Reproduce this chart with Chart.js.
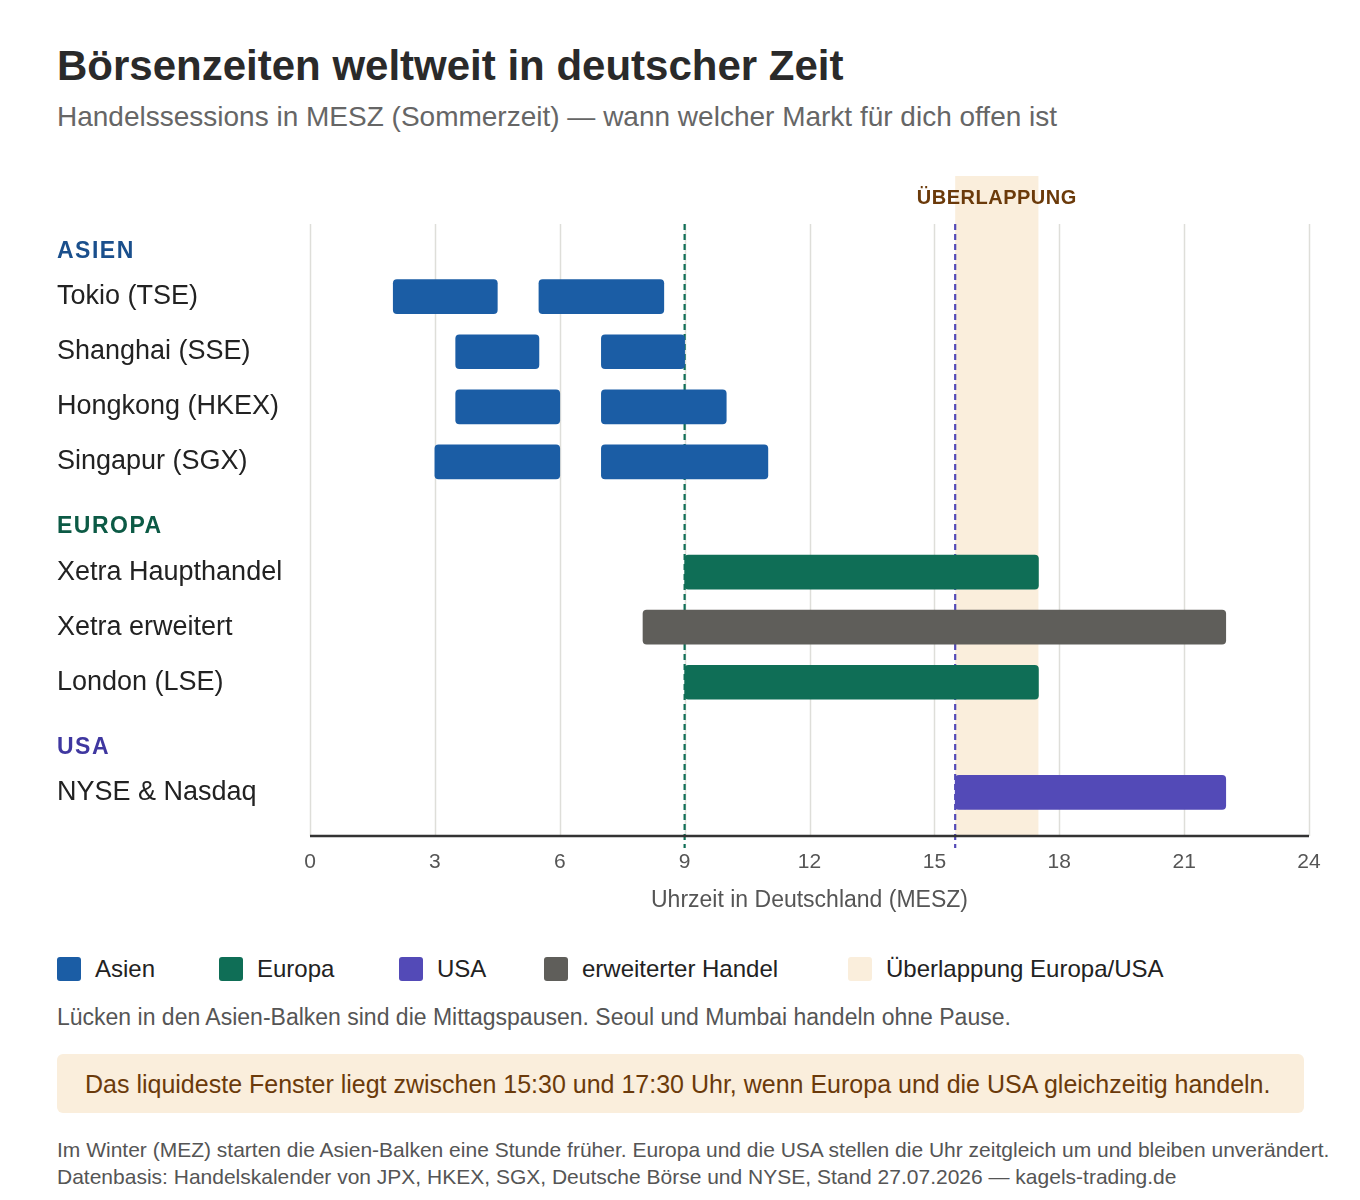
<!DOCTYPE html>
<html lang="de">
<head>
<meta charset="utf-8">
<title>Börsenzeiten weltweit</title>
<script src="https://cdn.jsdelivr.net/npm/chart.js@4.4.1/dist/chart.umd.min.js"></script>
<style>
  html, body { margin: 0; padding: 0; background: #fff; }
  body { width: 1360px; height: 1200px; position: relative; font-family: "Liberation Sans", Arial, sans-serif; color: #2a2a2a; }
  .abs { position: absolute; white-space: nowrap; }
  #title { left: 57px; top: 40px; font-size: 42px; font-weight: bold; line-height: 52px; color: #2a2a2a; }
  #subtitle { left: 57px; top: 100px; font-size: 28px; line-height: 34px; color: #666; }
  #chartBox { left: 0; top: 150px; width: 1360px; height: 780px; }
  #legend { left: 57px; top: 955px; height: 28px; font-size: 24px; color: #222; }
  .item { position: absolute; top: 0; display: flex; align-items: center; height: 28px; }
  .sw { width: 24px; height: 24px; border-radius: 3px; margin-right: 14px; }
  #note { left: 57px; top: 1003px; font-size: 23px; line-height: 28px; color: #555; }
  #callout { left: 57px; top: 1054px; width: 1247px; height: 59px; background: #faeedc; border-radius: 6px; }
  #callout span { position: absolute; left: 28px; top: 15px; font-size: 25px; line-height: 30px; color: #6b3a0a; }
  #footer { left: 57px; top: 1136px; font-size: 21px; line-height: 27px; color: #555; }
</style>
</head>
<body>
<div id="title" class="abs">Börsenzeiten weltweit in deutscher Zeit</div>
<div id="subtitle" class="abs">Handelssessions in MESZ (Sommerzeit) — wann welcher Markt für dich offen ist</div>
<div id="chartBox" class="abs"><canvas id="sessionChart"></canvas></div>
<div id="legend" class="abs"></div>
<div id="note" class="abs">Lücken in den Asien-Balken sind die Mittagspausen. Seoul und Mumbai handeln ohne Pause.</div>
<div id="callout" class="abs"><span>Das liquideste Fenster liegt zwischen 15:30 und 17:30 Uhr, wenn Europa und die USA gleichzeitig handeln.</span></div>
<div id="footer" class="abs">Im Winter (MEZ) starten die Asien-Balken eine Stunde früher. Europa und die USA stellen die Uhr zeitgleich um und bleiben unverändert.<br>Datenbasis: Handelskalender von JPX, HKEX, SGX, Deutsche Börse und NYSE, Stand 27.07.2026 — kagels-trading.de</div>

<script>
// rows of the chart, group headers included
const rows = [
  "ASIEN", "Tokio (TSE)", "Shanghai (SSE)", "Hongkong (HKEX)", "Singapur (SGX)",
  "EUROPA", "Xetra Haupthandel", "Xetra erweitert", "London (LSE)",
  "USA", "NYSE & Nasdaq",
];
const headerColors = { ASIEN: "#1a4f8c", EUROPA: "#0c5a45", USA: "#3f37a0" };

// sessions in hours (MESZ), [start, end]
const asiaMorning   = [null, [2, 4.5], [3.5, 5.5], [3.5, 6], [3, 6], null, null, null, null, null, null];
const asiaAfternoon = [null, [5.5, 8.5], [7, 9], [7, 10], [7, 11], null, null, null, null, null, null];
const europe        = [null, null, null, null, null, null, [9, 17.5], null, [9, 17.5], null, null];
const extended      = [null, null, null, null, null, null, null, [8, 22], null, null, null];
const usa           = [null, null, null, null, null, null, null, null, null, null, [15.5, 22]];

const overlapWindow = [15.5, 17.5];
const europeOpen = 9;
const usaOpen = 15.5;
const hourTicks = [0, 3, 6, 9, 12, 15, 18, 21, 24];

const colors = {
  asia: "#1b5da5",
  europe: "#0f6e56",
  usa: "#534ab7",
  extended: "#5f5e5a",
  overlap: "#faeedc",
};

const legendItems = [
  { label: "Asien", color: colors.asia, x: 0 },
  { label: "Europa", color: colors.europe, x: 162 },
  { label: "USA", color: colors.usa, x: 342 },
  { label: "erweiterter Handel", color: colors.extended, x: 487 },
  { label: "Überlappung Europa/USA", color: colors.overlap, x: 791 },
];

const FONT = "'Liberation Sans', Arial, sans-serif";

document.addEventListener("DOMContentLoaded", function () {
  buildLegend();
  initSessionChart();
});

function buildLegend() {
  const box = document.getElementById("legend");
  legendItems.forEach(function (item) {
    const el = document.createElement("div");
    el.className = "item";
    el.style.left = item.x + "px";
    el.innerHTML = '<div class="sw" style="background:' + item.color + '"></div><span>' + item.label + "</span>";
    box.appendChild(el);
  });
}

// background: overlap band, grid, axis line, open markers; row labels on top
const backdropPlugin = {
  id: "backdrop",
  beforeDatasetsDraw(chart) {
    const { ctx, chartArea, scales } = chart;
    const x = scales.x;
    const gridTop = chartArea.top + 10;
    const axisY = chartArea.bottom + 16;
    ctx.save();

    // overlap band
    const b0 = x.getPixelForValue(overlapWindow[0]);
    const b1 = x.getPixelForValue(overlapWindow[1]);
    ctx.fillStyle = colors.overlap;
    ctx.fillRect(b0, chartArea.top - 38, b1 - b0, axisY - (chartArea.top - 38));

    ctx.fillStyle = "#6b3a0a";
    ctx.font = "bold 20px " + FONT;
    ctx.letterSpacing = "0.5px";
    ctx.textAlign = "center";
    ctx.textBaseline = "middle";
    ctx.fillText("ÜBERLAPPUNG", (b0 + b1) / 2, chartArea.top - 16);
    ctx.letterSpacing = "0px";

    // vertical grid
    ctx.strokeStyle = "#deded9";
    ctx.lineWidth = 1.5;
    hourTicks.forEach(function (h) {
      const px = Math.round(x.getPixelForValue(h)) + 0.5;
      ctx.beginPath();
      ctx.moveTo(px, gridTop);
      ctx.lineTo(px, axisY);
      ctx.stroke();
    });

    // market open markers
    [[europeOpen, "#0f6e56"], [usaOpen, "#534ab7"]].forEach(function (m) {
      const px = x.getPixelForValue(m[0]);
      ctx.strokeStyle = m[1];
      ctx.lineWidth = 2.2;
      ctx.setLineDash([6, 4]);
      ctx.beginPath();
      ctx.moveTo(px, gridTop);
      ctx.lineTo(px, axisY + 12);
      ctx.stroke();
    });
    ctx.setLineDash([]);

    // axis line
    ctx.strokeStyle = "#333";
    ctx.lineWidth = 2.5;
    ctx.beginPath();
    ctx.moveTo(x.left, axisY);
    ctx.lineTo(x.right, axisY);
    ctx.stroke();
    ctx.restore();
  },
  afterDraw(chart) {
    const { ctx, scales } = chart;
    const y = scales.y;
    ctx.save();
    ctx.textAlign = "left";
    ctx.textBaseline = "middle";
    rows.forEach(function (label, i) {
      const py = y.getPixelForValue(i);
      if (headerColors[label]) {
        ctx.fillStyle = headerColors[label];
        ctx.font = "bold 23px " + FONT;
        ctx.letterSpacing = "1.5px";
        ctx.fillText(label, 57, py + 10);
      } else {
        ctx.fillStyle = "#222";
        ctx.font = "27px " + FONT;
        ctx.letterSpacing = "0px";
        ctx.fillText(label, 57, py);
      }
    });
    ctx.restore();
  },
};

function bars(label, data, color) {
  return {
    label: label,
    data: data,
    backgroundColor: color,
    borderWidth: 0,
    borderRadius: 4,
    borderSkipped: false,
    barThickness: 34,
    grouped: false,
  };
}

function initSessionChart() {
  const ctx = document.getElementById("sessionChart").getContext("2d");

  new Chart(ctx, {
    type: "bar",
    data: {
      labels: rows,
      datasets: [
        bars("Asien", asiaMorning, colors.asia),
        bars("Asien (Nachmittag)", asiaAfternoon, colors.asia),
        bars("Europa", europe, colors.europe),
        bars("erweiterter Handel", extended, colors.extended),
        bars("USA", usa, colors.usa),
      ],
    },
    options: {
      indexAxis: "y",
      responsive: true,
      maintainAspectRatio: false,
      animation: false,
      layout: { padding: { top: 64, right: 51, left: 0, bottom: 0 } },
      plugins: {
        legend: { display: false },
        tooltip: { enabled: false },
      },
      scales: {
        x: {
          min: 0,
          max: 24,
          afterBuildTicks: function (scale) {
            scale.ticks = hourTicks.map(function (v) { return { value: v }; });
          },
          afterFit: function (scale) { scale.height = 110; },
          grid: { display: false },
          border: { display: false },
          ticks: {
            padding: 22,
            color: "#555",
            font: { family: FONT, size: 21 },
          },
          title: {
            display: true,
            text: "Uhrzeit in Deutschland (MESZ)",
            color: "#555",
            font: { family: FONT, size: 23 },
            padding: { top: 0, bottom: 16 },
          },
        },
        y: {
          afterFit: function (scale) { scale.width = 310; },
          grid: { display: false },
          border: { display: false },
          ticks: { display: false },
        },
      },
    },
    plugins: [backdropPlugin],
  });
}
</script>
</body>
</html>
